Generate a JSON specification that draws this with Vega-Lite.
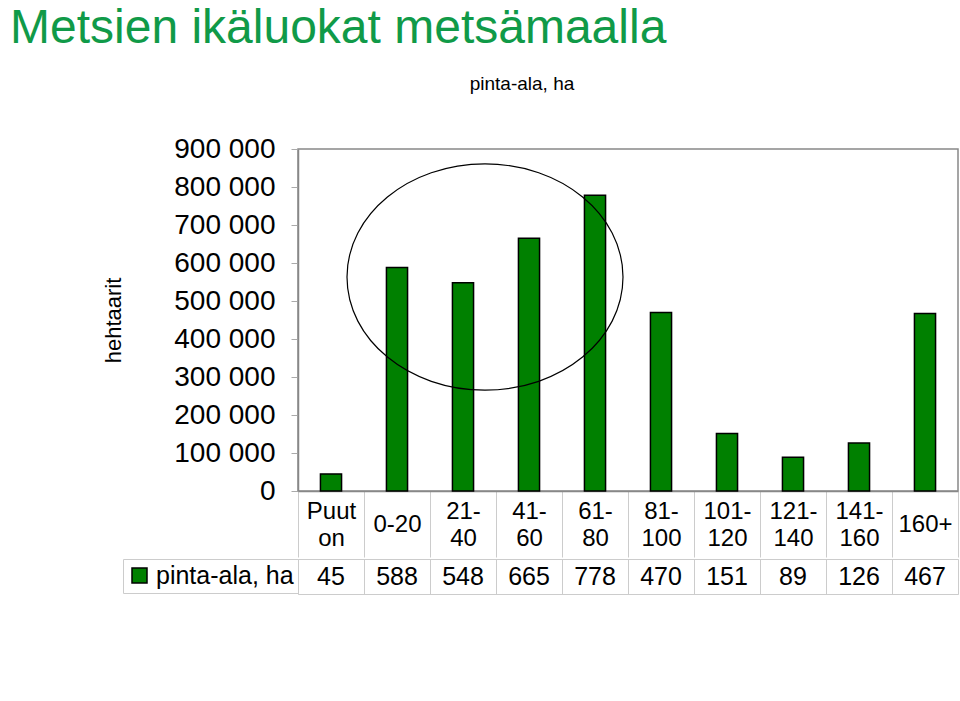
{
  "$schema": "https://vega.github.io/schema/vega-lite/v6.json",
  "padding": {"left": 10, "top": 5, "right": 2, "bottom": 0},
  "config": {"font": "Liberation Sans", "view": {"stroke": null}},
  "title": {"text": "Metsien ikäluokat metsämaalla", "anchor": "start", "fontSize": 48, "fontWeight": "normal", "color": "#109a48", "dx": -92, "offset": 21},
  "resolve": {"legend": {"color": "independent"}, "scale": {"color": "independent"}},
  "spacing": -8,
  "datasets": {
    "ages": [
      {"luokka": "Puut on", "ala": 45},
      {"luokka": "0-20", "ala": 588},
      {"luokka": "21-40", "ala": 548},
      {"luokka": "41-60", "ala": 665},
      {"luokka": "61-80", "ala": 778},
      {"luokka": "81-100", "ala": 470},
      {"luokka": "101-120", "ala": 151},
      {"luokka": "121-140", "ala": 89},
      {"luokka": "141-160", "ala": 126},
      {"luokka": "160+", "ala": 467}
    ],
    "annotation": [
      {"luokka": "21-40", "ala": 563}
    ]
  },
  "vconcat": [
    {
      "width": 660,
      "height": 342,
      "title": {"text": "pinta-ala, ha", "fontSize": 19, "fontWeight": "normal", "anchor": "middle", "frame": "group", "dx": -106, "offset": 41, "color": "#000"},
      "view": {"stroke": "#888", "strokeWidth": 1.5},
      "encoding": {
        "x": {
          "field": "luokka", "type": "nominal", "sort": null,
          "scale": {"domain": ["Puut on", "0-20", "21-40", "41-60", "61-80", "81-100", "101-120", "121-140", "141-160", "160+"], "paddingInner": 0, "paddingOuter": 0},
          "axis": {
            "title": null, "orient": "bottom", "tickBand": "extent", "tickSize": 66, "tickColor": "#ccc",
            "domainColor": "#888", "domainWidth": 1.5, "labelAngle": 0, "labelFontSize": 24, "labelColor": "#000",
            "labelBaseline": "middle", "labelLineHeight": 27, "labelOverlap": false, "labelBound": false,
            "labelPadding": {"condition": {"test": "datum.label == '0-20' || datum.label == '160+'", "value": -33}, "value": -46},
            "labelExpr": "datum.label == 'Puut on' ? ['Puut', 'on'] : (datum.label == '0-20' || datum.label == '160+') ? datum.label : [slice(datum.label, 0, indexof(datum.label, '-') + 1), slice(datum.label, indexof(datum.label, '-') + 1)]"
          }
        },
        "y": {
          "field": "ala", "type": "quantitative",
          "scale": {"domain": [0, 900], "nice": false},
          "axis": {
            "title": "hehtaarit", "titleFontSize": 22, "titleFontWeight": "normal", "titleColor": "#000", "titlePadding": 48,
            "values": [0, 100, 200, 300, 400, 500, 600, 700, 800, 900],
            "labelExpr": "datum.value == 0 ? '0' : datum.label + ' 000'",
            "labelFontSize": 28, "labelColor": "#000", "labelPadding": 16, "tickSize": 7, "tickColor": "#aaa",
            "labelOverlap": false, "labelBound": false,
            "domainColor": "#888", "domainWidth": 1.5, "grid": false
          }
        }
      },
      "layer": [
        {
          "data": {"name": "ages"},
          "mark": {"type": "bar", "fill": "#008000", "stroke": "#000", "strokeWidth": 1.5, "width": {"band": 0.32}}
        },
        {
          "data": {"name": "annotation"},
          "mark": {"type": "point", "shape": "M -1 0 A 1 0.82 0 1 0 1 0 A 1 0.82 0 1 0 -1 0 Z", "size": 76176, "filled": false, "stroke": "#000", "strokeWidth": 1.2, "opacity": 1, "xOffset": 22}
        }
      ]
    },
    {
      "width": 660,
      "height": 35,
      "view": {"stroke": "#ccc"},
      "data": {"name": "ages"},
      "encoding": {
        "x": {
          "field": "luokka", "type": "nominal", "sort": null,
          "scale": {"paddingInner": 0, "paddingOuter": 0},
          "axis": {"title": null, "labels": false, "ticks": false, "domain": false, "grid": true, "gridColor": "#ccc", "tickBand": "extent"}
        }
      },
      "layer": [
        {
          "mark": {"type": "text", "fontSize": 25, "color": "#000", "baseline": "middle"},
          "encoding": {
            "text": {"field": "ala", "type": "quantitative"}
          }
        },
        {
          "mark": {"type": "square", "size": 0, "opacity": 0},
          "encoding": {
            "color": {
              "datum": "pinta-ala, ha", "type": "nominal",
              "scale": {"range": ["#008000"]},
              "legend": {
                "orient": "left", "title": null, "labelFontSize": 25, "labelColor": "#000", "labelLimit": 300, "labelOffset": 4,
                "symbolType": "square", "symbolSize": 225, "symbolOpacity": 1, "symbolStrokeColor": "#000", "symbolStrokeWidth": 1.5,
                "offset": 0, "padding": 4, "strokeColor": "#ccc"
              }
            }
          }
        }
      ]
    }
  ]
}
